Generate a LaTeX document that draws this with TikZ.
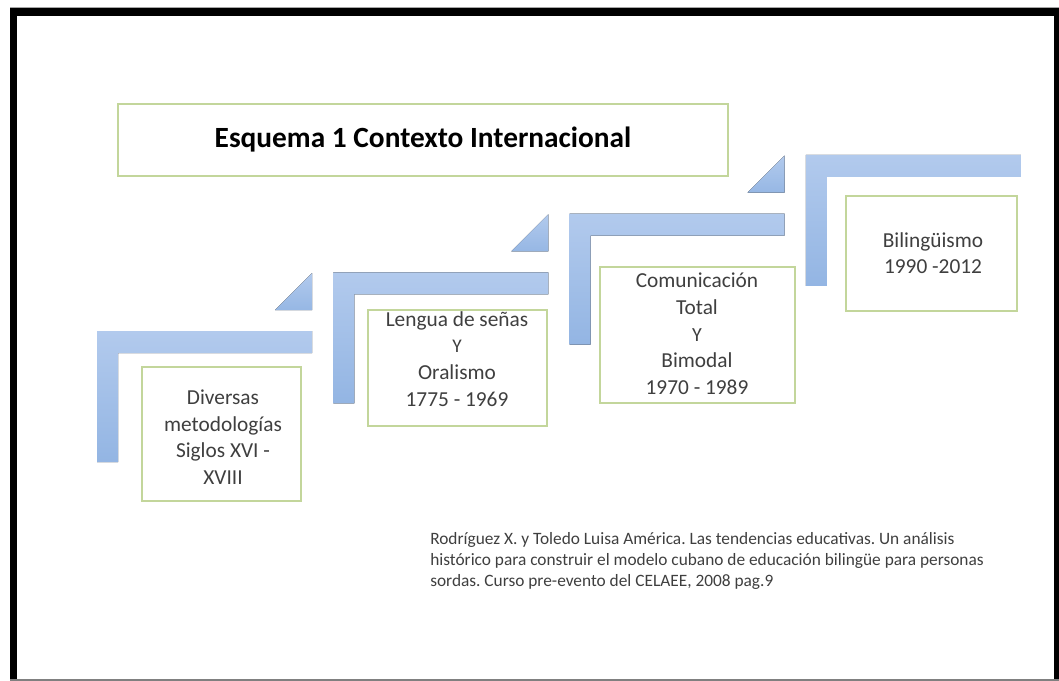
\documentclass[tikz,border=0pt]{standalone}
\usepackage{fontspec}
\setmainfont{Carlito}
\definecolor{boxgreen}{HTML}{C3D69B}
\definecolor{txtgray}{HTML}{3F3F3F}
\definecolor{bluelight}{HTML}{B2CAED}
\definecolor{bluedark}{HTML}{93B5E3}
\begin{document}
\frenchspacing
\begin{tikzpicture}[x=0.75pt,y=-0.75pt,
  box/.style={draw=boxgreen, line width=1.1pt, fill=white, inner sep=0pt},
  txt/.style={text=txtgray, font=\fontsize{16}{20}\selectfont, align=center, inner sep=0pt},
  barfill/.style={top color=bluelight, bottom color=bluedark, draw=none},
  trifill/.style={top color=bluelight, bottom color=bluedark!90!bluelight, draw=none},
]
\useasboundingbox (0,0) rectangle (1059,681);
\fill[white] (0,0) rectangle (1059,681);
\draw[gray!70, line width=0.8pt] (10,8) -- (1059,8);
\fill[black] (10,8.5) rectangle (1059,681);
\fill[white] (17,16) rectangle (1054,679);
\draw[gray, line width=1.2pt] (10,680.2) -- (1059,680.2);

% bent bars
\foreach \i in {0,...,3} {
  \pgfmathsetmacro\ox{97+236.3*\i}
  \pgfmathsetmacro\oy{331-58.7*\i}
  \fill[barfill] (\ox,\oy) -- ++(215,0) -- ++(0,22) -- ++(-194,0) -- ++(0,109) -- ++(-21,0) -- cycle;
}
\foreach \i in {0,...,2} {
  \pgfmathsetmacro\ox{97+236.3*\i}
  \pgfmathsetmacro\oy{331-58.7*\i}
  \fill[trifill] (\ox+215,\oy-58) -- (\ox+215,\oy-21) -- (\ox+178,\oy-21) -- cycle;
}

% title
\node[box, minimum width=457.5pt, minimum height=54pt, font=\fontsize{22}{26}\selectfont\bfseries, text=black] (title) at (423,140) {Esquema 1 Contexto Internacional};

% boxes
\node[box, minimum width=119.25pt, minimum height=100.5pt] (b1) at (221.5,434) {};
\node[box, minimum width=134.25pt, minimum height=87pt] (b2) at (457.5,368) {};
\node[box, minimum width=146.25pt, minimum height=102pt] (b3) at (697.5,335) {};
\node[box, minimum width=128.25pt, minimum height=86.25pt] (b4) at (931.5,253.5) {};

\node[txt] (t1) at (223,437) {Diversas\\metodologías\\Siglos XVI -\\XVIII};
\node[txt] (t2) at (457,359) {Lengua de señas\\{\fontsize{14.5}{20}\selectfont Y}\\Oralismo\\1775 - 1969};
\node[txt] (t3) at (697,334) {Comunicación\\Total\\{\fontsize{15}{20}\selectfont Y}\\Bimodal\\1970 - 1989};
\node[txt] (t4) at (933,253) {Bilingüismo\\1990 -2012};

% citation
\node[anchor=north west, inner sep=0pt, text=txtgray, align=left, font=\fontsize{13}{15.75}\selectfont] (cite) at (430,532)
 {Rodríguez X. y Toledo Luisa América. Las tendencias educativas. Un análisis\\
  histórico para construir el modelo cubano de educación bilingüe para personas\\
  sordas. Curso pre-evento del CELAEE, 2008 pag.9};
\end{tikzpicture}
\end{document}
